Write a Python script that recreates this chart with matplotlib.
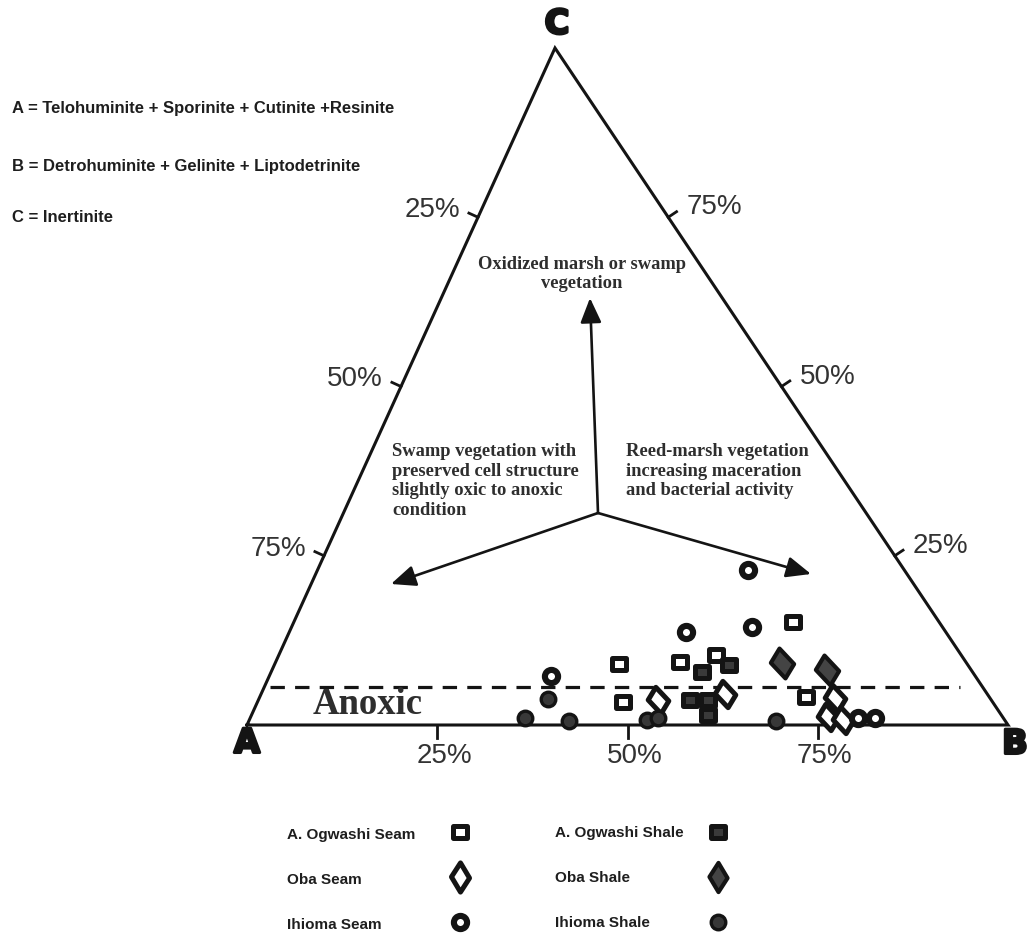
import numpy as np
import matplotlib
matplotlib.use("Agg")
import matplotlib.pyplot as plt
import matplotlib.patheffects as pe
from matplotlib.markers import MarkerStyle
from matplotlib.patches import FancyArrowPatch
from matplotlib.path import Path

# ---------------------------------------------------------------- data (%)
# Each sample is (A, B, C) in percent.
ogwashi_seam_A = [19.2, 45.8, 37.6, 32.2, 48.6, 24.1]
ogwashi_seam_B = [65.6, 45.2, 53.1, 57.5, 48.0, 71.8]
ogwashi_seam_C = [15.2, 9.0, 9.3, 10.3, 3.4, 4.1]

ogwashi_shale_A = [35.6, 31.3, 39.6, 37.2, 38.5]
ogwashi_shale_B = [56.6, 59.8, 56.7, 59.1, 60.0]
ogwashi_shale_C = [7.8, 8.9, 3.7, 3.7, 1.5]

oba_seam_A = [43.8, 34.4, 20.3, 22.9, 21.3]
oba_seam_B = [52.5, 61.0, 75.7, 75.9, 78.0]
oba_seam_C = [3.7, 4.6, 4.0, 1.2, 0.7]

oba_shale_A = [24.2, 19.0]
oba_shale_B = [66.6, 72.9]
oba_shale_C = [9.2, 8.1]

ihioma_seam_A = [20.5, 34.2, 25.0, 55.8, 19.1, 16.9]
ihioma_seam_B = [56.6, 52.1, 60.5, 37.0, 79.9, 82.1]
ihioma_seam_C = [22.9, 13.7, 14.5, 7.2, 1.0, 1.0]

ihioma_shale_A = [58.2, 62.9, 57.3, 47.0, 45.4, 30.1]
ihioma_shale_B = [38.0, 36.1, 42.1, 52.3, 53.6, 69.3]
ihioma_shale_C = [3.8, 1.0, 0.6, 0.7, 1.0, 0.6]

anoxic_C = 5.6                      # upper limit of the anoxic field
anoxic_B_span = [0.8, 91.4]         # extent of the dashed boundary along B

tick_values = [25, 50, 75]

# ---------------------------------------------------------------- layout
W, H = 1029, 940
VA = np.array([247.0, 725.0])
VB = np.array([1008.0, 725.0])
VC = np.array([555.0, 48.0])


def tern(a, b, c):
    a = np.atleast_1d(np.asarray(a, float))
    b = np.atleast_1d(np.asarray(b, float))
    c = np.atleast_1d(np.asarray(c, float))
    s = a + b + c
    p = (a[:, None] * VA + b[:, None] * VB + c[:, None] * VC) / s[:, None]
    return p[:, 0], p[:, 1]


SANS = "Liberation Sans"
SERIF = "Liberation Serif"

fig = plt.figure(figsize=(W / 100, H / 100), dpi=100)
ax = fig.add_axes([0, 0, 1, 1])
ax.set_xlim(0, W)
ax.set_ylim(H, 0)
ax.axis("off")

INK = "#141414"
TXT = "#2e2e2e"

# triangle frame
tx, ty = tern([100, 0, 0, 100], [0, 100, 0, 0], [0, 0, 100, 0])
ax.plot(tx, ty, color=INK, lw=2.2, solid_joinstyle="miter", zorder=2)


def unit(v):
    return v / np.hypot(*v)


left_out = unit(np.array([-(VC - VA)[1], (VC - VA)[0]]))
if left_out[0] > 0:
    left_out = -left_out
right_out = unit(np.array([-(VB - VC)[1], (VB - VC)[0]]))
if right_out[0] < 0:
    right_out = -right_out
down_out = np.array([0.0, 1.0])

pct_kw = dict(fontsize=20, family=SANS, color="#333333", ha="center", va="center")
for v in tick_values:
    # left edge (A-C): A percentage
    x, y = tern(v, 0, 100 - v)
    p = np.array([x[0], y[0]])
    q = p + 10 * left_out
    ax.plot([p[0], q[0]], [p[1], q[1]], color=INK, lw=2.0, zorder=2)
    ax.text(p[0] - 46, p[1] - 7, f"{v}%", **pct_kw)
    # right edge (C-B): C percentage
    x, y = tern(0, 100 - v, v)
    p = np.array([x[0], y[0]])
    q = p + 10 * right_out
    ax.plot([p[0], q[0]], [p[1], q[1]], color=INK, lw=2.0, zorder=2)
    ax.text(p[0] + 46, p[1] - 10, f"{v}%", **pct_kw)
    # bottom edge (A-B): B percentage
    x, y = tern(100 - v, v, 0)
    p = np.array([x[0], y[0]])
    q = p + 13 * down_out
    ax.plot([p[0], q[0]], [p[1], q[1]], color=INK, lw=2.0, zorder=2)
    ax.text(p[0] + 7, p[1] + 31, f"{v}%", **pct_kw)

# vertex letters
vk = dict(fontsize=24, family="DejaVu Sans", fontweight="bold", color=INK,
          ha="center", va="center",
          path_effects=[pe.withStroke(linewidth=2.2, foreground=INK)])
ax.text(VA[0], 743, "A", **vk)
ax.text(1015, 744, "B", **vk)
ax.text(VC[0] + 2, 24, "C", **vk)

# anoxic boundary
bx = np.array(anoxic_B_span)
dx, dy = tern(100 - anoxic_C - bx, bx, [anoxic_C, anoxic_C])
ax.plot(dx, dy, color=INK, lw=2.3, dashes=(4.5, 3.2), zorder=2)
ax.text(313, 704, "Anoxic", fontsize=26.5, family=SERIF, fontweight="bold",
        color=TXT, ha="left", va="center")

# process arrows
centre = (598, 513)
for tip in [(590, 298), (391, 584), (811, 574)]:
    ax.add_patch(FancyArrowPatch(centre, tip,
                                 arrowstyle="-|>,head_length=0.75,head_width=0.32",
                                 mutation_scale=20, lw=1.9, color=INK,
                                 shrinkA=0, shrinkB=0, zorder=2))

serif_kw = dict(fontsize=13.3, family=SERIF, fontweight="bold", color=TXT,
                linespacing=1.22)
ax.text(582, 274, "Oxidized marsh or swamp\nvegetation", ha="center", va="center", **serif_kw)
ax.text(392, 481, "Swamp vegetation with\npreserved cell structure\nslightly oxic to anoxic\ncondition",
        ha="left", va="center", **serif_kw)
ax.text(626, 471, "Reed-marsh vegetation\nincreasing maceration\nand bacterial activity",
        ha="left", va="center", **serif_kw)

# end-member definitions
def_kw = dict(fontsize=12, family=SANS, fontweight="bold", color="#1e1e1e",
              ha="left", va="center")
ax.text(12, 108, "A = Telohuminite + Sporinite + Cutinite +Resinite", **def_kw)
ax.text(12, 167, "B = Detrohuminite + Gelinite + Liptodetrinite", **def_kw)
ax.text(12, 217, "C = Inertinite", **def_kw)

# ---------------------------------------------------------------- markers
rect = Path([(-0.6, -0.5), (0.6, -0.5), (0.6, 0.5), (-0.6, 0.5), (-0.6, -0.5)],
            [Path.MOVETO, Path.LINETO, Path.LINETO, Path.LINETO, Path.CLOSEPOLY])
sq = MarkerStyle(rect, joinstyle="miter")


def diamond(skew, half_width):
    """Diamond whose top tip leans left by `skew` (units of marker height)."""
    pts = np.array([(-skew, 0.5), (half_width, -0.02), (skew, -0.5),
                    (-half_width, 0.02), (-skew, 0.5)])
    codes = [Path.MOVETO, Path.LINETO, Path.LINETO, Path.LINETO, Path.CLOSEPOLY]
    return MarkerStyle(Path(pts, codes), joinstyle="miter")


dia_tilt = diamond(0.1, 0.39)
dia_up = diamond(0.0, 0.31)

styles = {
    "A. Ogwashi Seam": dict(marker=sq, ms=10.5, mfc="white", mec=INK, mew=3.6),
    "A. Ogwashi Shale": dict(marker=sq, ms=10.5, mfc="#3a3a3a", mec=INK, mew=3.6),
    "Oba Seam": dict(marker=dia_tilt, ms=19, mfc="white", mec=INK, mew=3.6),
    "Oba Shale": dict(marker=dia_tilt, ms=21.5, mfc="#444444", mec=INK, mew=3.0),
    "Ihioma Seam": dict(marker="o", ms=9.5, mfc="white", mec=INK, mew=4.4),
    "Ihioma Shale": dict(marker="o", ms=10.5, mfc="#383838", mec=INK, mew=2.4),
}

series = [
    ("A. Ogwashi Seam", ogwashi_seam_A, ogwashi_seam_B, ogwashi_seam_C),
    ("A. Ogwashi Shale", ogwashi_shale_A, ogwashi_shale_B, ogwashi_shale_C),
    ("Oba Seam", oba_seam_A, oba_seam_B, oba_seam_C),
    ("Oba Shale", oba_shale_A, oba_shale_B, oba_shale_C),
    ("Ihioma Seam", ihioma_seam_A, ihioma_seam_B, ihioma_seam_C),
    ("Ihioma Shale", ihioma_shale_A, ihioma_shale_B, ihioma_shale_C),
]
for name, a, b, c in series:
    x, y = tern(a, b, c)
    ax.plot(x, y, ls="none", zorder=3, **styles[name])

# legend
leg_kw = dict(fontsize=11, family=SANS, fontweight="bold", color="#1e1e1e",
              ha="left", va="center")
rows = [832, 877, 922]
left_items = ["A. Ogwashi Seam", "Oba Seam", "Ihioma Seam"]
right_items = ["A. Ogwashi Shale", "Oba Shale", "Ihioma Shale"]
for yy, nl, nr in zip(rows, left_items, right_items):
    ax.text(287, yy + 3, nl, **leg_kw)
    ax.text(555, yy + 1, nr, **leg_kw)
    sl = dict(styles[nl])
    sr = dict(styles[nr])
    if "Oba" in nl:
        sl.update(marker=dia_up, ms=21)
        sr.update(marker=dia_up, ms=21)
    ax.plot([460], [yy], ls="none", **sl)
    ax.plot([718], [yy], ls="none", **sr)

fig.savefig("out.png", dpi=100, facecolor="white")
